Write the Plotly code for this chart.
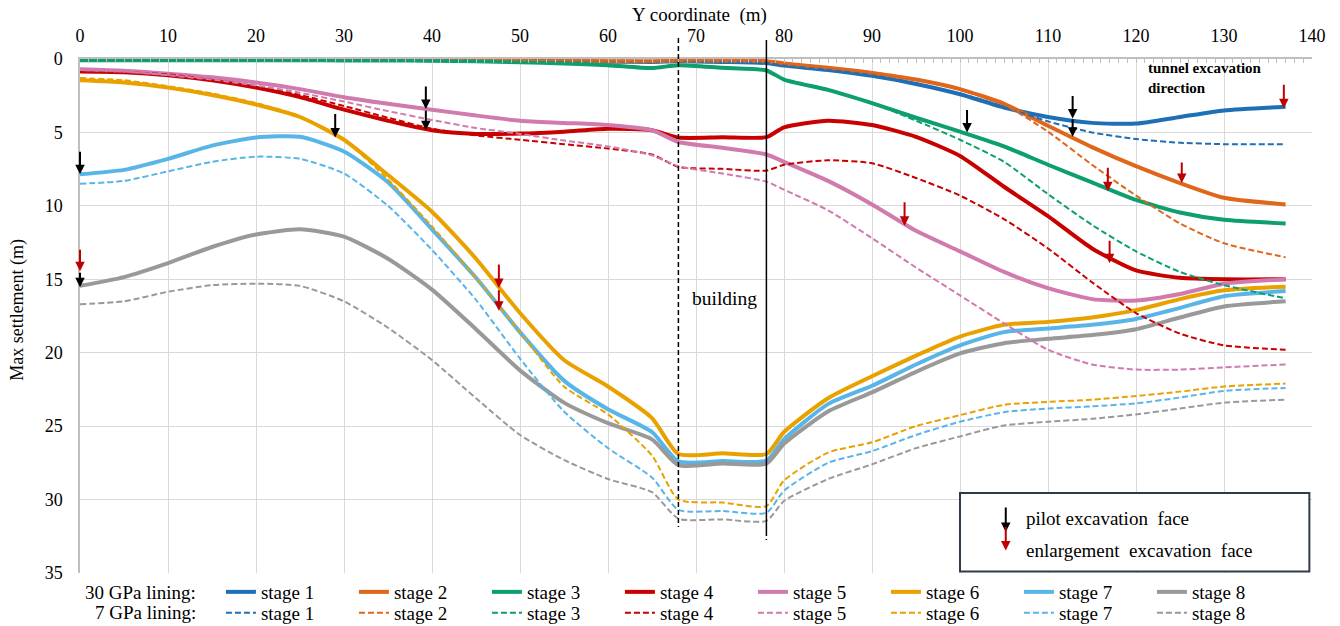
import plotly.graph_objects as go

# Y coordinate along the tunnel (m)
Y_COORD = [0, 5, 10, 15, 20, 25, 30, 35, 40, 45, 50, 55, 60, 65, 68, 73, 78,
           80, 85, 90, 95, 100, 105, 110, 115, 120, 125, 130, 137]

# Max settlement (m), 30 GPa lining
S30_STAGE1 = [0.05, 0.05, 0.05, 0.05, 0.05, 0.05, 0.06, 0.07, 0.08, 0.10, 0.12, 0.14, 0.18, 0.20, 0.15, 0.20, 0.28,
              0.45, 0.75, 1.15, 1.70, 2.40, 3.30, 3.95, 4.35, 4.40, 3.95, 3.50, 3.25]
S30_STAGE2 = [0.03, 0.03, 0.03, 0.03, 0.03, 0.03, 0.04, 0.04, 0.05, 0.06, 0.08, 0.10, 0.15, 0.15, 0.10, 0.12, 0.15,
              0.30, 0.60, 0.95, 1.40, 2.05, 3.05, 4.55, 6.00, 7.30, 8.45, 9.45, 9.90]
S30_STAGE3 = [0.08, 0.08, 0.08, 0.08, 0.08, 0.08, 0.10, 0.10, 0.12, 0.15, 0.22, 0.30, 0.42, 0.62, 0.42, 0.60, 0.78,
              1.40, 2.10, 3.00, 4.00, 4.95, 5.95, 7.20, 8.40, 9.60, 10.45, 10.95, 11.20]
S30_STAGE4 = [0.85, 0.90, 1.10, 1.45, 1.95, 2.60, 3.45, 4.20, 4.85, 5.10, 5.08, 4.95, 4.75, 4.85, 5.35, 5.33, 5.32,
              4.65, 4.20, 4.50, 5.30, 6.60, 8.70, 10.70, 12.90, 14.40, 14.90, 15.00, 15.00]
S30_STAGE5 = [0.70, 0.80, 1.00, 1.25, 1.60, 2.05, 2.60, 3.05, 3.45, 3.85, 4.20, 4.35, 4.50, 4.85, 5.65, 6.05, 6.50,
              7.00, 8.30, 9.90, 11.70, 13.10, 14.50, 15.60, 16.35, 16.45, 16.00, 15.30, 15.00]
S30_STAGE6 = [1.45, 1.60, 1.95, 2.45, 3.10, 3.95, 5.50, 7.90, 10.40, 13.60, 17.30, 20.50, 22.30, 24.45, 26.90, 26.85, 26.90,
              25.40, 23.10, 21.60, 20.20, 18.90, 18.10, 17.90, 17.60, 17.10, 16.35, 15.75, 15.50]
S30_STAGE7 = [7.85, 7.55, 6.80, 5.90, 5.35, 5.30, 6.30, 8.40, 11.60, 14.90, 18.60, 21.90, 23.85, 25.40, 27.40, 27.38, 27.35,
              25.90, 23.50, 22.25, 20.80, 19.50, 18.60, 18.35, 18.10, 17.70, 16.95, 16.15, 15.80]
S30_STAGE8 = [15.45, 14.85, 13.90, 12.80, 11.95, 11.60, 12.10, 13.60, 15.70, 18.40, 21.20, 23.40, 24.80, 25.90, 27.65, 27.55, 27.55,
              26.20, 24.00, 22.70, 21.30, 20.05, 19.35, 19.05, 18.80, 18.40, 17.60, 16.85, 16.50]

# Max settlement (m), 7 GPa lining
S7_STAGE1 = [0.03, 0.03, 0.03, 0.03, 0.03, 0.04, 0.05, 0.06, 0.07, 0.08, 0.10, 0.12, 0.15, 0.17, 0.12, 0.18, 0.25,
             0.42, 0.72, 1.10, 1.65, 2.35, 3.25, 4.25, 5.00, 5.45, 5.70, 5.80, 5.80]
S7_STAGE2 = [0.02, 0.02, 0.02, 0.02, 0.02, 0.02, 0.03, 0.03, 0.04, 0.05, 0.07, 0.09, 0.12, 0.13, 0.09, 0.10, 0.12,
             0.30, 0.60, 0.90, 1.40, 2.10, 3.10, 4.95, 7.20, 9.30, 11.20, 12.55, 13.50]
S7_STAGE3 = [0.06, 0.06, 0.06, 0.06, 0.06, 0.06, 0.08, 0.08, 0.10, 0.13, 0.20, 0.28, 0.40, 0.60, 0.40, 0.58, 0.75,
             1.35, 2.10, 3.00, 4.20, 5.50, 7.00, 9.20, 11.30, 13.10, 14.50, 15.40, 16.30]
S7_STAGE4 = [0.85, 0.90, 1.05, 1.40, 1.85, 2.45, 3.20, 4.00, 4.75, 5.20, 5.50, 5.80, 6.10, 6.50, 7.35, 7.48, 7.60,
             7.20, 6.90, 7.10, 8.10, 9.30, 10.90, 12.90, 15.20, 17.30, 18.70, 19.50, 19.80]
S7_STAGE5 = [0.75, 0.85, 1.10, 1.40, 1.80, 2.30, 2.90, 3.55, 4.15, 4.70, 5.10, 5.55, 5.95, 6.55, 7.30, 7.80, 8.35,
             8.90, 10.30, 12.20, 14.20, 16.10, 18.00, 19.80, 20.80, 21.15, 21.15, 21.00, 20.80]
S7_STAGE6 = [1.30, 1.45, 1.85, 2.35, 3.00, 3.90, 5.50, 8.20, 11.40, 14.90, 18.60, 22.30, 24.20, 27.00, 30.00, 30.20, 30.45,
             28.70, 26.80, 26.10, 25.00, 24.25, 23.55, 23.35, 23.20, 22.95, 22.65, 22.30, 22.10]
S7_STAGE7 = [8.50, 8.30, 7.65, 7.00, 6.65, 6.80, 7.80, 10.00, 13.00, 16.40, 20.40, 24.00, 26.50, 28.50, 30.70, 30.78, 30.90,
             29.40, 27.50, 26.70, 25.60, 24.70, 24.05, 23.80, 23.65, 23.45, 23.05, 22.60, 22.40]
S7_STAGE8 = [16.70, 16.50, 15.85, 15.40, 15.30, 15.45, 16.50, 18.30, 20.50, 23.10, 25.60, 27.30, 28.60, 29.50, 31.30, 31.35, 31.45,
             30.10, 28.60, 27.60, 26.50, 25.70, 24.95, 24.70, 24.50, 24.20, 23.80, 23.40, 23.20]

STAGE_NAMES = ["stage 1", "stage 2", "stage 3", "stage 4", "stage 5", "stage 6", "stage 7", "stage 8"]
STAGE_COLORS = ["#1F6FB5", "#E0661B", "#0E9F6E", "#C80000", "#D07AAE", "#E9A100", "#58B5E8", "#999999"]

# Excavation face positions: Y coordinate and settlement at the arrow tip, arrow length (px)
PILOT_Y = [0.0, 29.0, 39.3, 39.3, 0.0, 100.8, 112.8, 112.8]
PILOT_S = [7.85, 5.35, 3.40, 4.85, 15.55, 5.00, 4.05, 5.30]
PILOT_LEN = [24, 25, 24, 21, 16, 24, 24, 19]

ENLARGE_Y = [136.8, 116.8, 125.2, 93.7, 117.0, 47.6, 47.6, 0.0]
ENLARGE_S = [3.35, 9.00, 8.45, 11.35, 13.90, 15.60, 17.15, 14.45]
ENLARGE_LEN = [25, 25, 22, 25, 24, 25, 22, 23]

# Building edges (Y coordinate, m)
BUILDING_LEFT = 68
BUILDING_RIGHT = 78

SERIF = "'Liberation Serif', 'Times New Roman', Times, serif"

fig = go.Figure()

stiff = [S30_STAGE1, S30_STAGE2, S30_STAGE3, S30_STAGE4, S30_STAGE5, S30_STAGE6, S30_STAGE7, S30_STAGE8]
soft = [S7_STAGE1, S7_STAGE2, S7_STAGE3, S7_STAGE4, S7_STAGE5, S7_STAGE6, S7_STAGE7, S7_STAGE8]

for name, color, ys in zip(STAGE_NAMES, STAGE_COLORS, stiff):
    fig.add_trace(go.Scatter(
        x=Y_COORD, y=ys, name=name, mode="lines", legend="legend",
        line=dict(color=color, width=4, shape="spline", smoothing=0.6),
        hoverinfo="skip"))

for name, color, ys in zip(STAGE_NAMES, STAGE_COLORS, soft):
    fig.add_trace(go.Scatter(
        x=Y_COORD, y=ys, name=name, mode="lines", legend="legend2",
        line=dict(color=color, width=2, dash="6px,3px", shape="spline", smoothing=0.6),
        hoverinfo="skip"))

annotations = []


def face_arrow(x, y, length, color):
    return dict(x=x, y=y, xref="x", yref="y", text="", showarrow=True,
                ax=0, ay=-length, arrowhead=2, arrowsize=0.95, arrowwidth=2,
                arrowcolor=color)


for x, y, n in zip(PILOT_Y, PILOT_S, PILOT_LEN):
    annotations.append(face_arrow(x, y, n, "black"))
for x, y, n in zip(ENLARGE_Y, ENLARGE_S, ENLARGE_LEN):
    annotations.append(face_arrow(x, y, n, "#C00000"))

# tunnel excavation direction
annotations.append(dict(x=121.2, y=-0.1, ax=136.6, ay=-0.1, xref="x", yref="y",
                        axref="x", ayref="y", text="", showarrow=True,
                        arrowhead=2, arrowsize=0.65, arrowwidth=3.5, arrowcolor="black"))
annotations.append(dict(x=121.1, y=1.26, xref="x", yref="y",
                        text="<b>tunnel excavation<br>direction</b>",
                        showarrow=False, xanchor="left", yanchor="middle", align="left",
                        font=dict(family=SERIF, size=15, color="black")))

annotations.append(dict(x=73.2, y=16.3, xref="x", yref="y", text="building", showarrow=False,
                        xanchor="center", yanchor="middle",
                        font=dict(family=SERIF, size=19.5, color="black")))

# key for the face arrows
annotations.append(face_arrow(105.2, 32.2, 26, "black"))
annotations.append(face_arrow(105.2, 33.47, 25, "#C00000"))
annotations.append(dict(x=107.3, y=31.3, xref="x", yref="y",
                        text="pilot excavation\u00a0\u00a0face", showarrow=False,
                        xanchor="left", yanchor="middle",
                        font=dict(family=SERIF, size=19, color="black")))
annotations.append(dict(x=107.3, y=33.5, xref="x", yref="y",
                        text="enlargement\u00a0\u00a0excavation\u00a0\u00a0face", showarrow=False,
                        xanchor="left", yanchor="middle",
                        font=dict(family=SERIF, size=19, color="black")))

# axis titles
annotations.append(dict(x=0.503, y=1.085, xref="paper", yref="paper",
                        text="Y coordinate\u00a0\u00a0(m)", showarrow=False,
                        xanchor="center", yanchor="middle",
                        font=dict(family=SERIF, size=19, color="black")))
annotations.append(dict(x=-0.0503, y=0.512, xref="paper", yref="paper",
                        text="Max settlement (m)", showarrow=False, textangle=-90,
                        xanchor="center", yanchor="middle",
                        font=dict(family=SERIF, size=18, color="black")))

# legend row labels
annotations.append(dict(x=0.0958, y=-0.037, xref="paper", yref="paper",
                        text="30 GPa lining:", showarrow=False, xanchor="right", yanchor="middle",
                        font=dict(family=SERIF, size=19, color="black")))
annotations.append(dict(x=0.0958, y=-0.0778, xref="paper", yref="paper",
                        text="7 GPa lining:", showarrow=False, xanchor="right", yanchor="middle",
                        font=dict(family=SERIF, size=19, color="black")))

shapes = [
    # building edges
    dict(type="line", xref="x", yref="paper", x0=BUILDING_LEFT, x1=BUILDING_LEFT,
         y0=1.041, y1=0.0895, line=dict(color="black", width=1.5, dash="5px,3px"), layer="above"),
    dict(type="line", xref="x", yref="paper", x0=BUILDING_RIGHT, x1=BUILDING_RIGHT,
         y0=1.037, y1=0.08, line=dict(color="black", width=1.5), layer="above"),
    dict(type="line", xref="x", yref="paper", x0=BUILDING_RIGHT, x1=BUILDING_RIGHT,
         y0=0.08, y1=0.064, line=dict(color="black", width=1.5, dash="4px,3px"), layer="above"),
    # key box
    dict(type="rect", xref="x", yref="y", x0=100.0, x1=139.7, y0=29.55, y1=34.9,
         fillcolor="white", line=dict(color="#2F3B4C", width=2), layer="above"),
]

legend_common = dict(orientation="h", xanchor="left", yanchor="middle",
                     font=dict(family=SERIF, size=19, color="black"),
                     entrywidth=88, entrywidthmode="pixels", bgcolor="rgba(0,0,0,0)",
                     traceorder="normal", itemclick=False, itemdoubleclick=False)

fig.update_layout(
    width=1340, height=626,
    margin=dict(l=80, r=28, t=59, b=53, autoexpand=False),
    paper_bgcolor="white", plot_bgcolor="white",
    font=dict(family=SERIF, color="black"),
    showlegend=True,
    legend=dict(x=0.1144, y=-0.037, **legend_common),
    legend2=dict(x=0.1144, y=-0.0778, **legend_common),
    annotations=annotations,
    shapes=shapes,
    xaxis=dict(range=[0, 140], side="top", dtick=10, tick0=0,
               showgrid=True, gridcolor="#D9D9D9", gridwidth=1,
               showline=True, linecolor="#BFBFBF", linewidth=1.5,
               zeroline=False, ticks="inside", ticklen=4, tickcolor="#BFBFBF",
               minor=dict(dtick=1, ticks="inside", ticklen=4, tickcolor="#BFBFBF", showgrid=False),
               ticklabelstandoff=8,
               tickfont=dict(family=SERIF, size=18, color="black")),
    yaxis=dict(range=[35, 0], dtick=5, tick0=0,
               showgrid=True, gridcolor="#D9D9D9", gridwidth=1,
               showline=True, linecolor="#BFBFBF", linewidth=1.5,
               zeroline=False, ticks="",
               ticklabelstandoff=12,
               tickfont=dict(family=SERIF, size=18, color="black")),
)

fig.write_html("out.html")
